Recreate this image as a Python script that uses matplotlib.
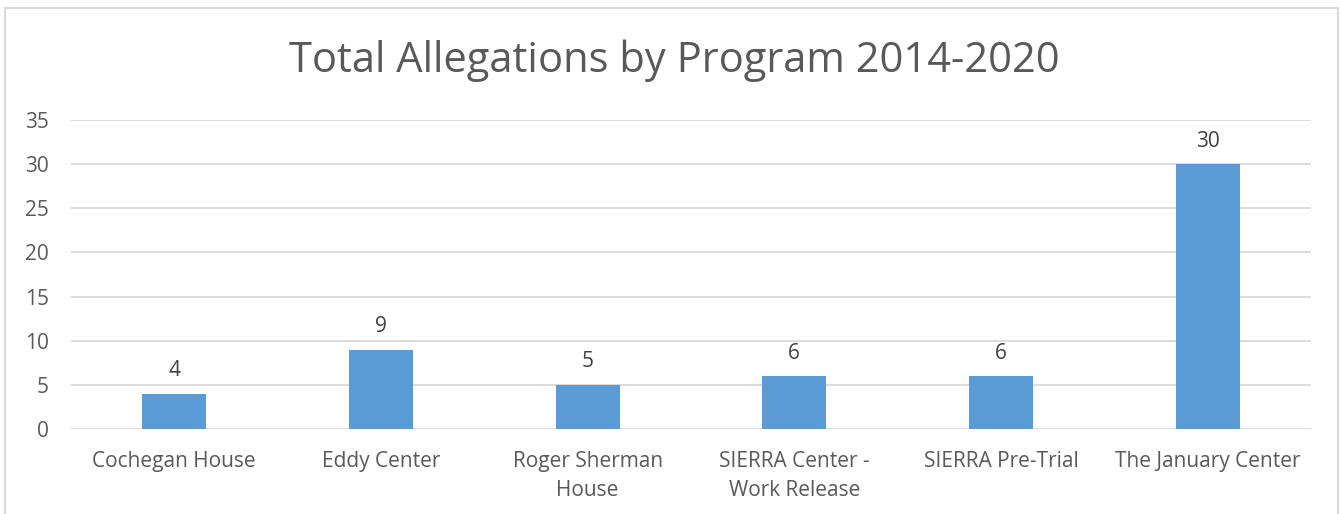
import matplotlib.pyplot as plt
from matplotlib.patches import Rectangle

# data
programs = ['Cochegan House', 'Eddy Center', 'Roger Sherman\nHouse',
            'SIERRA Center -\nWork Release', 'SIERRA Pre-Trial', 'The January Center']
allegations = [4, 9, 5, 6, 6, 30]
y_ticks = [0, 5, 10, 15, 20, 25, 30, 35]

plt.rcParams['font.family'] = ['Open Sans', 'DejaVu Sans']
grey = '#595959'

fig = plt.figure(figsize=(13.41, 5.14), dpi=100)
ax = fig.add_axes([0.0529, 0.1654, 0.9247, 0.6011])

# outer chart border (runs off the bottom of the image)
fig.patches.append(Rectangle((5 / 1341, -0.1), 1333 / 1341, 1 - 8 / 514 + 0.1,
                             transform=fig.transFigure, fill=False,
                             edgecolor='#d9d9d9', linewidth=1.5))

x = range(len(programs))
bars = ax.bar(x, allegations, width=0.31, color='#5b9bd5', zorder=3)
for b, v in zip(bars, allegations):
    ax.annotate(str(v), (b.get_x() + b.get_width() / 2, v), xytext=(0, 9),
                textcoords='offset points', ha='center', va='bottom',
                fontsize=15, color='#404040')

ax.set_xlim(-0.5, len(programs) - 0.5)
ax.set_ylim(0, 35)
ax.set_yticks(y_ticks)
ax.set_xticks(list(x))
ax.set_xticklabels(programs, fontsize=15, color=grey, linespacing=1.5)
ax.tick_params(axis='y', labelsize=15, labelcolor=grey, length=0, pad=16)
ax.tick_params(axis='x', length=0, pad=16)
ax.yaxis.grid(True, color='#d9d9d9', linewidth=1.3, zorder=0)
ax.set_axisbelow(True)
for s in ax.spines.values():
    s.set_visible(False)

fig.text(674 / 1341, 1 - 61 / 514, 'Total Allegations by Program 2014-2020',
         ha='center', va='center', fontsize=30, color=grey)

fig.savefig('out.png', dpi=100)
